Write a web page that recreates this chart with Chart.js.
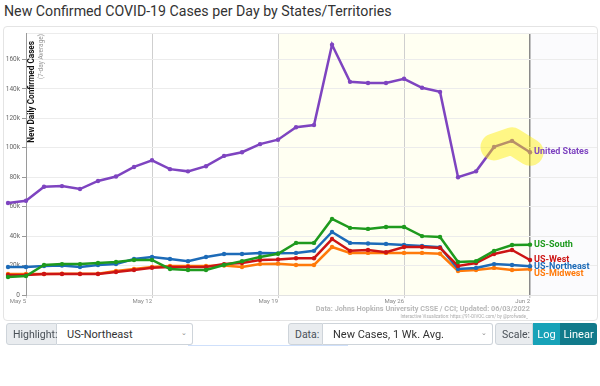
<!DOCTYPE html>
<html><head><meta charset="utf-8">
<script src="https://cdn.jsdelivr.net/npm/chart.js@4.4.1/dist/chart.umd.min.js"></script>
<style>
body{margin:0;width:600px;height:386px;overflow:hidden;background:#fff;font-family:Roboto,'Open Sans',sans-serif;position:relative}
#title{position:absolute;left:4px;top:1px;font-size:14.2px;color:#333;white-space:nowrap;line-height:20px}
#panel{position:absolute;left:3px;top:26px;width:593px;height:293px;border:1px solid #e4e4e4;border-radius:4px;background:#fff}
#c{position:absolute;left:0;top:0}
.src1{position:absolute;right:70px;top:304px;font-size:7.3px;font-weight:bold;color:#b8b8b8;white-space:nowrap}
.src2{position:absolute;right:72px;top:314px;font-size:4.5px;color:#aaa;white-space:nowrap}
.grp{position:absolute;top:323px;height:22px;display:flex;font-size:10.5px;color:#495057}
.lab{background:#e9ecef;border:1px solid #ced4da;border-radius:3px 0 0 3px;display:flex;align-items:center;padding:0 4px 0 6px;box-sizing:border-box;height:22px;white-space:nowrap}
.sel{border:1px solid #ced4da;border-left:none;border-radius:0 3px 3px 0;display:flex;align-items:center;padding:0 10px;box-sizing:border-box;height:22px;background:#fff;position:relative;color:#333;font-size:11px;white-space:nowrap}
.chev{position:absolute;right:5px;top:5px;font-size:7px;color:#888}
.btn{display:flex;align-items:center;justify-content:center;color:#fff;height:22px;box-sizing:border-box;font-size:11px}
#focus{position:absolute;left:188px;top:345px;width:160px;height:1px;background:#cfe0fb}
</style></head>
<body>
<div id="title">New Confirmed COVID-19 Cases per Day by States/Territories</div>
<div id="panel"></div>
<canvas id="c" width="600" height="386"></canvas>
<div class="src1">Data: Johns Hopkins University CSSE / CCI; Updated: 06/03/2022</div>
<div class="src2">Interactive Visualization: https://91-DIVOC.com/ by @profwade_</div>
<div class="grp" style="left:6px;width:187px">
  <div class="lab" style="width:51px">Highlight:</div>
  <div class="sel" style="width:136px">US-Northeast<span class="chev">&#8964;</span></div>
</div>
<div class="grp" style="left:288px;width:205px">
  <div class="lab" style="width:35px">Data:</div>
  <div class="sel" style="width:170px">New Cases, 1 Wk. Avg.<span class="chev">&#8964;</span></div>
</div>
<div class="grp" style="left:495px;width:102px">
  <div class="lab" style="width:38px">Scale:</div>
  <div class="btn" style="width:27px;background:#17a2b8">Log</div>
  <div class="btn" style="width:37px;background:#117a8b;border-radius:0 3px 3px 0">Linear</div>
</div>
<div id="focus"></div>
<script>
// day offsets from May 5 (-1 = May 4)
const days = [-1,0,1,2,3,4,5,6,7,8,9,10,11,12,13,14,15,16,17,18,19,20,21,22,23,24,25,26,27,28];
const tickDays = [0,7,14,21,28];
const tickLabels = ['May 5','May 12','May 19','May 26','Jun 2'];
const yTicks = [0,20000,40000,60000,80000,100000,120000,140000,160000];

const unitedStates = [62500,64000,73500,74000,72000,77500,80500,87000,91500,85500,84000,87500,94500,97000,102500,105500,114000,115500,170000,144800,144000,144000,146900,140800,138000,80000,84000,100600,104700,97000];
const usSouth     = [12200,12900,20400,21000,21000,21700,22400,23800,23800,17700,17000,17000,20400,23000,25800,28000,35400,35400,51700,45600,44900,46200,46200,40000,39400,22400,23000,30000,34000,34200];
const usWest      = [13600,13600,14300,14300,14300,14300,15600,17000,18500,19000,19000,19000,21000,21700,23800,24200,25000,25000,38000,30000,30600,29000,32600,32600,32000,19700,21700,27900,30600,23800];
const usNortheast = [19000,19000,19700,20000,19000,20400,21000,24500,25800,24500,23000,25800,27900,27900,28600,28300,28600,30000,42800,35400,35000,34700,34000,33300,32500,17700,18400,21000,20400,19500];
const usMidwest   = [14300,14300,14300,14500,14500,14500,16300,17700,19000,19700,19700,19700,20000,19000,21000,21300,20400,20400,32600,28600,28600,28600,28600,28600,28000,16300,17000,18400,17000,17500];

const seriesNames = ['United States','US-South','US-West','US-Northeast','US-Midwest'];
const seriesData = [unitedStates,usSouth,usWest,usNortheast,usMidwest];
const seriesColors = ['#7e44c0','#1e9a1e','#cc1414','#1d6bb8','#ff7a0a'];
const highlightFrom = 27; // index of May 31

const pts = arr => days.map((d,i)=>({x:d,y:arr[i]}));

const datasets = [{
  label:'highlight',
  data: days.slice(highlightFrom).map((d,i)=>({x:d,y:unitedStates[highlightFrom+i]})),
  borderColor:'rgba(255,238,0,0.45)',borderWidth:27,pointRadius:0,
  borderCapStyle:'round',borderJoinStyle:'round',order:0,clip:false,endLabel:false
}];
seriesNames.forEach((n,k)=>{
  datasets.push({label:n,data:pts(seriesData[k]),borderColor:seriesColors[k],backgroundColor:seriesColors[k],
    borderWidth:2.5,pointRadius:2.2,pointBorderWidth:0,pointHoverRadius:2.2,order:k+1,clip:false,endLabel:true,tension:0});
});

const bands = {
  id:'bands',
  beforeDraw(chart){
    const {ctx,chartArea:a,scales:{x}} = chart;
    ctx.save();
    ctx.fillStyle='#fffff2';
    ctx.fillRect(x.getPixelForValue(14),a.top,x.getPixelForValue(28)-x.getPixelForValue(14),a.bottom-a.top);
    ctx.fillStyle='#fbfbfd';
    ctx.fillRect(x.getPixelForValue(28),a.top,a.right-x.getPixelForValue(28),a.bottom-a.top);
    ctx.restore();
  }
};
const extendArea = {
  id:'extendArea',
  beforeDatasetsDraw(chart){ chart._savedArea = chart.chartArea; chart.chartArea = Object.assign({},chart.chartArea,{left:0,right:chart.width}); },
  afterDatasetsDraw(chart){ if(chart._savedArea){ chart.chartArea = chart._savedArea; chart._savedArea=null; } }
};
const endLabels = {
  id:'endLabels',
  afterDraw(chart){
    const ctx = chart.ctx;
    const items=[];
    chart.data.datasets.forEach((ds,i)=>{
      if(!ds.endLabel) return;
      const m = chart.getDatasetMeta(i); const p = m.data[m.data.length-1];
      items.push({t:ds.label,x:p.x,y:p.y,c:ds.borderColor});
    });
    items.sort((a,b)=>a.y-b.y);
    for(let i=1;i<items.length;i++){ if(items[i].y-items[i-1].y<6.8) items[i].y=items[i-1].y+6.8; }
    ctx.save();
    ctx.font='bold 9px Roboto, sans-serif'; ctx.textBaseline='middle'; ctx.textAlign='left';
    items.forEach(it=>{ctx.fillStyle=it.c; ctx.fillText(it.t,it.x+4,it.y);});
    // y title inside plot
    ctx.translate(32,41); ctx.rotate(-Math.PI/2);
    ctx.textAlign='right'; ctx.fillStyle='#111'; ctx.font='bold 8.2px Roboto, sans-serif';
    ctx.fillText('New Daily Confirmed Cases',0,0);
    ctx.restore();
    ctx.save();
    ctx.translate(41,34); ctx.rotate(-Math.PI/2);
    ctx.textAlign='right'; ctx.textBaseline='middle'; ctx.fillStyle='#999'; ctx.font='6.5px Roboto, sans-serif';
    ctx.fillText('(7-day Average)',0,0);
    ctx.restore();
  }
};

new Chart(document.getElementById('c'),{
  type:'line',
  data:{datasets},
  plugins:[bands,extendArea,endLabels],
  options:{
    responsive:false,animation:false,
    layout:{padding:{left:0,top:33,right:3,bottom:77}},
    plugins:{legend:{display:false},tooltip:{enabled:false}},
    scales:{
      x:{type:'linear',min:0,max:31.72,
        afterBuildTicks:ax=>{ax.ticks=tickDays.map(v=>({value:v}));},
        afterFit:s=>{s.height=14;},
        ticks:{autoSkip:false,maxRotation:0,align:'end',padding:0,color:'#888',font:{size:6,family:'Roboto'},
          callback:v=>tickLabels[tickDays.indexOf(v)]},
        grid:{color:c=>c.tick&&c.tick.value===28?'#8a8a8a':'#cfcfcf',lineWidth:c=>c.tick&&c.tick.value===28?1.5:1,tickLength:3,tickColor:'#cfcfcf'},
        border:{color:'#e2e2e2'}
      },
      y:{min:0,max:178000,
        afterBuildTicks:ax=>{ax.ticks=yTicks.concat([178000]).map(v=>({value:v}));},
        afterFit:s=>{s.width=26;},
        ticks:{padding:2,color:'#666',font:{size:6.5,family:'Roboto'},
          callback:v=>v===178000?'':(v===0?'0':(v/1000)+'k')},
        grid:{color:'#ececec',tickLength:4,tickColor:c=>c.tick&&c.tick.value===178000?'rgba(0,0,0,0)':'#999'},
        border:{color:'#9a9a9a'}
      }
    }
  }
});
</script>
</body></html>
